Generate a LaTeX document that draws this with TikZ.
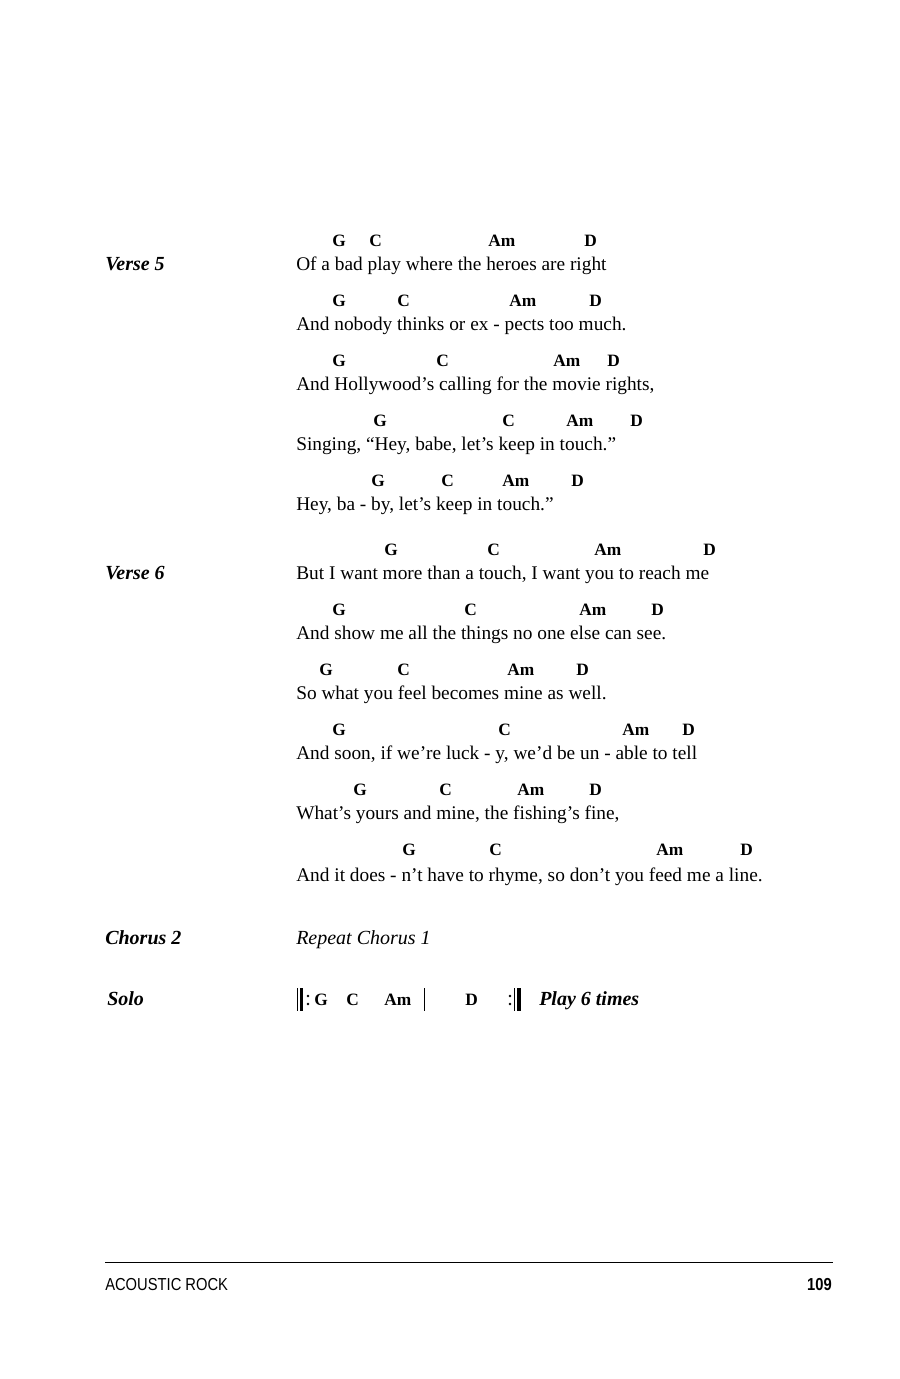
\documentclass[tikz,border=0pt]{standalone}
\usepackage{fontspec}
\setmainfont{Liberation Serif}
\setsansfont{Liberation Sans}[FakeStretch=0.85]
\tikzset{
  lyric/.style = {anchor=base west, inner sep=0pt, font=\fontsize{14.5}{16}\selectfont},
  chord/.style = {anchor=base west, inner sep=0pt, font=\fontsize{13}{15}\bfseries},
  section/.style = {anchor=base west, inner sep=0pt, font=\fontsize{15}{17}\bfseries\itshape},
  foot/.style = {inner sep=0pt, font=\fontsize{13}{15}\selectfont\sffamily}
}
\begin{document}
\begin{tikzpicture}[x=0.75pt,y=-0.75pt]
 \useasboundingbox (0,0) rectangle (900,1379);

 % section labels
 \node[section,name=v5] at (105,270) {Verse 5};
 \node[section,name=v6] at (105,579) {Verse 6};
 \node[section,name=ch2] at (105,944) {Chorus 2};
 \node[section,name=solo] at (107,1005) {Solo};

 % lyrics
 \node[lyric,name=l1]  at (296,270) {Of a bad play where the heroes are right};
 \node[lyric,name=l2]  at (296,330) {And nobody thinks or ex - pects too much.};
 \node[lyric,name=l3]  at (296,390) {And Hollywood’s calling for the movie rights,};
 \node[lyric,name=l4]  at (296,450) {Singing, “Hey, babe, let’s keep in touch.”};
 \node[lyric,name=l5]  at (296,510) {Hey, ba - by, let’s keep in touch.”};
 \node[lyric,name=l6]  at (296,579) {But I want more than a touch, I want you to reach me};
 \node[lyric,name=l7]  at (296,639) {And show me all the things no one else can see.};
 \node[lyric,name=l8]  at (296,699) {So what you feel becomes mine as well.};
 \node[lyric,name=l9]  at (296,759) {And soon, if we’re luck - y, we’d be un - able to tell};
 \node[lyric,name=l10] at (296,819) {What’s yours and mine, the fishing’s fine,};
 \node[lyric,name=l11] at (296,881) {And it does - n’t have to rhyme, so don’t you feed me a line.};

 % chords
 \foreach \y/\xg/\xc/\xa/\xd [count=\i] in {
   246/332/369/488/584, 306/332/397/509/589, 366/332/436/553/607,
   426/373/502/566/630, 486/371/441/502/571, 555/384/487/594/703,
   615/332/464/579/651, 675/319/397/507/576, 735/332/498/622/682,
   795/353/439/517/589, 855/402/489/656/740}{
   \node[chord,name=g\i]  at (\xg,\y) {G};
   \node[chord,name=c\i]  at (\xc,\y) {C};
   \node[chord,name=am\i] at (\xa,\y) {Am};
   \node[chord,name=d\i]  at (\xd,\y) {D};
 }

 \node[lyric,name=rep,font=\fontsize{15}{17}\itshape] at (296,944) {Repeat Chorus 1};

 % solo bar
 \draw[line width=0.6pt] (297,988) -- (297,1011);
 \draw[line width=2.4pt] (301.5,988) -- (301.5,1011);
 \fill (308,996) circle (1pt) (308,1004) circle (1pt);
 \node[chord,name=sg]  at (314,1005) {G};
 \node[chord,name=sc]  at (346,1005) {C};
 \node[chord,name=sam] at (384,1005) {Am};
 \draw[line width=0.6pt] (424,988) -- (424,1011);
 \node[chord,name=sd]  at (465,1005) {D};
 \fill (510,996) circle (1pt) (510,1004) circle (1pt);
 \draw[line width=0.6pt] (514,988) -- (514,1011);
 \draw[line width=2.4pt] (519,988) -- (519,1011);
 \node[section,name=times] at (539,1005) {Play 6 times};

 % footer
 \draw[line width=0.6pt] (105,1262) -- (833,1262);
 \node[foot,anchor=base west,name=book] at (105,1290) {ACOUSTIC ROCK};
 \node[foot,anchor=base east,name=page,font=\fontsize{13}{15}\bfseries\sffamily] at (832,1290) {109};
\end{tikzpicture}
\end{document}
